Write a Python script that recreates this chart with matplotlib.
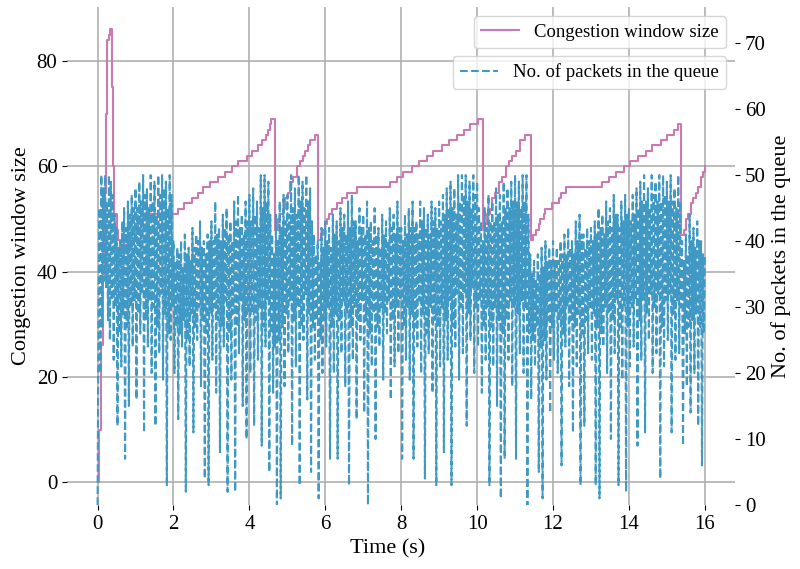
import numpy as np
import matplotlib.pyplot as plt

plt.rcParams['font.family'] = ['Liberation Serif', 'DejaVu Serif']

# === Congestion window (step points) ===
cwnd_time = [0, 0.03, 0.10, 0.15, 0.19, 0.22, 0.25, 0.30, 0.34, 0.37, 0.40, 0.43,
             0.52, 0.54, 0.59, 0.70, 0.85, 1.00, 1.07, 1.20, 1.29,
             2.13, 2.29, 2.48, 2.65, 2.78, 2.96, 3.17, 3.36, 3.55, 3.71, 3.93,
             4.08, 4.22, 4.33, 4.43, 4.50, 4.54, 4.57,
             4.68, 4.75, 4.81, 4.88, 4.94, 5.01, 5.07, 5.16, 5.25, 5.34, 5.40,
             5.47, 5.55, 5.60, 5.73,
             5.82, 5.90, 5.95, 6.00, 6.04, 6.10, 6.17, 6.31, 6.44, 6.57, 6.83,
             7.71, 7.89, 8.06, 8.28, 8.46, 8.68, 8.85, 9.08, 9.25, 9.47, 9.65,
             9.82, 10.02,
             10.16, 10.21, 10.26, 10.33, 10.40, 10.48, 10.57, 10.66, 10.75,
             10.83, 10.92, 11.03, 11.14, 11.27,
             11.41, 11.48, 11.54, 11.62, 11.67, 11.75, 11.80, 11.98, 12.15,
             12.22, 12.33, 13.30, 13.47, 13.65, 13.87, 14.04, 14.24, 14.44,
             14.62, 14.84, 15.01, 15.19, 15.28,
             15.38, 15.44, 15.50, 15.56, 15.63, 15.70, 15.76, 15.83, 15.89,
             15.95, 16.00]
cwnd_size = [0, 10, 26, 39, 55, 70, 84, 85, 86, 75, 60, 51,
             48, 46, 43, 45, 47, 48, 49, 50, 51,
             52, 53, 54, 55, 56, 57, 58, 59, 60, 61, 62,
             63, 64, 65, 66, 67, 68, 69,
             48, 50, 51, 52, 54, 55, 57, 58, 60, 61, 62,
             63, 64, 65, 66,
             46, 47, 48, 49, 50, 51, 52, 53, 54, 55, 56,
             57, 58, 59, 60, 61, 62, 63, 64, 65, 66, 67,
             68, 69,
             48, 49, 51, 52, 54, 55, 57, 58, 60,
             61, 62, 63, 65, 66,
             46, 47, 48, 49, 50, 51, 52, 53, 54,
             55, 56, 57, 58, 59, 60, 61, 62, 63,
             64, 65, 66, 67, 68,
             47, 48, 50, 51, 53, 54, 55, 56, 58,
             59, 60]

# === Queue length, one sample every 0.025 s (one row per second) ===
QUEUE_DT = 0.025
queue_pkts = [
    0, 30, 45, 20, 50, 27, 48, 34, 50, 33, 46, 28, 50, 25, 49, 31, 47, 22, 44, 30,
    42, 12, 39, 26, 40, 21, 43, 29, 45, 7, 42, 27, 46, 15, 44, 30, 47, 24, 45, 31,
    48, 16, 45, 29, 49, 26, 46, 32, 50, 11, 47, 28, 48, 24, 45, 31, 50, 20, 46, 30,
    49, 12, 44, 27, 50, 23, 47, 32, 50, 19, 48, 29, 49, 3, 45, 26, 50, 25, 47, 30,
    40, 20, 37, 27, 39, 13, 38, 26, 40, 24, 36, 28, 41, 2, 38, 25, 39, 21, 37, 29,
    42, 11, 39, 27, 41, 25, 40, 30, 43, 18, 39, 28, 40, 4, 38, 26, 41, 3, 40, 29,
    43, 22, 40, 30, 46, 17, 41, 28, 42, 8, 40, 27, 44, 24, 42, 31, 45, 2, 41, 26,
    43, 19, 40, 29, 46, 2, 43, 27, 47, 23, 42, 31, 44, 15, 41, 28, 46, 10, 43, 29,
    47, 20, 43, 29, 48, 12, 44, 28, 46, 22, 42, 30, 50, 9, 45, 27, 50, 24, 46, 31,
    49, 5, 44, 26, 41, 17, 38, 24, 44, 0, 40, 25, 46, 1, 42, 27, 47, 18, 43, 29,
    47, 23, 44, 31, 50, 9, 45, 28, 48, 21, 44, 30, 50, 3, 46, 27, 49, 25, 45, 32,
    50, 16, 46, 29, 48, 5, 43, 27, 41, 22, 38, 28, 40, 1, 37, 25, 42, 20, 39, 28,
    43, 24, 40, 30, 42, 7, 39, 27, 44, 20, 41, 29, 43, 7, 40, 28, 45, 23, 42, 31,
    44, 18, 41, 29, 46, 3, 42, 27, 47, 22, 43, 30, 43, 13, 40, 28, 45, 25, 42, 31,
    44, 14, 41, 28, 46, 0, 42, 26, 43, 21, 40, 29, 45, 10, 41, 27, 42, 24, 39, 30,
    44, 19, 41, 29, 43, 26, 40, 31, 45, 16, 42, 28, 44, 21, 41, 30, 46, 23, 42, 31,
    42, 7, 40, 27, 44, 22, 41, 30, 45, 19, 42, 29, 46, 7, 42, 27, 43, 24, 41, 31,
    46, 20, 43, 29, 45, 4, 42, 26, 44, 23, 41, 30, 46, 17, 43, 28, 45, 3, 42, 27,
    46, 21, 43, 30, 47, 8, 44, 28, 48, 22, 45, 31, 49, 3, 45, 27, 48, 24, 44, 32,
    50, 19, 46, 30, 50, 23, 47, 32, 50, 12, 46, 29, 49, 25, 45, 33, 50, 20, 47, 30,
    49, 24, 45, 31, 43, 17, 40, 27, 45, 22, 42, 30, 47, 3, 43, 27, 46, 21, 43, 30,
    48, 15, 44, 28, 47, 1, 43, 26, 49, 7, 45, 28, 48, 22, 45, 31, 49, 18, 46, 30,
    50, 7, 46, 29, 49, 23, 45, 31, 50, 20, 46, 30, 50, 0, 44, 26, 38, 16, 35, 25,
    37, 21, 34, 27, 38, 5, 35, 24, 39, 1, 36, 25, 40, 19, 37, 28, 39, 14, 37, 27,
    40, 22, 37, 29, 39, 20, 37, 28, 40, 6, 38, 26, 41, 24, 38, 30, 42, 18, 39, 28,
    40, 11, 38, 27, 43, 21, 40, 29, 44, 3, 41, 26, 41, 12, 39, 28, 42, 23, 40, 30,
    42, 22, 40, 29, 43, 3, 41, 27, 45, 1, 42, 26, 44, 24, 41, 30, 46, 20, 43, 29,
    45, 10, 42, 28, 47, 23, 44, 31, 44, 3, 42, 27, 46, 19, 43, 30, 47, 2, 44, 27,
    45, 21, 43, 30, 47, 24, 44, 31, 48, 9, 45, 28, 49, 22, 46, 31, 50, 11, 46, 29,
    48, 25, 45, 32, 50, 20, 47, 30, 49, 23, 46, 32, 50, 4, 46, 27, 50, 21, 47, 31,
    49, 25, 46, 32, 50, 11, 46, 29, 48, 22, 45, 31, 50, 23, 46, 30, 40, 9, 37, 26,
    41, 18, 38, 27, 44, 14, 40, 28, 42, 20, 39, 29, 43, 12, 40, 27, 40, 6, 38, 26,
    38,
]
queue_time = np.arange(len(queue_pkts)) * QUEUE_DT

PINK = "#cc79b0"
BLUE = "#4099c4"

fig, ax1 = plt.subplots(figsize=(8, 5.69), dpi=100)
fig.subplots_adjust(left=0.084, right=0.919, bottom=0.1125, top=0.988)

ax1.plot(cwnd_time, cwnd_size, color=PINK, lw=1.5, drawstyle="steps-post",
         label="Congestion window size")
ax2 = ax1.twinx()
ax2.plot(queue_time, queue_pkts, color=BLUE, lw=1.5, ls="--",
         label="No. of packets in the queue")
ax2.set_ylim(0, 75.5)

ax1.grid(True, color="#b0b0b0", lw=1.2)
ax1.set_axisbelow(True)
for a in (ax1, ax2):
    for s in a.spines.values():
        s.set_visible(False)
    a.tick_params(labelsize=15)

ax1.set_xlabel("Time (s)", fontsize=16, x=0.48)
ax1.set_ylabel("Congestion window size", fontsize=16)
ax2.set_ylabel("No. of packets in the queue", fontsize=16)

ax1.legend(loc="upper right", fontsize=13.5)
ax2.legend(loc="upper right", bbox_to_anchor=(1, 0.92), fontsize=13.5)

fig.savefig("out.png")
